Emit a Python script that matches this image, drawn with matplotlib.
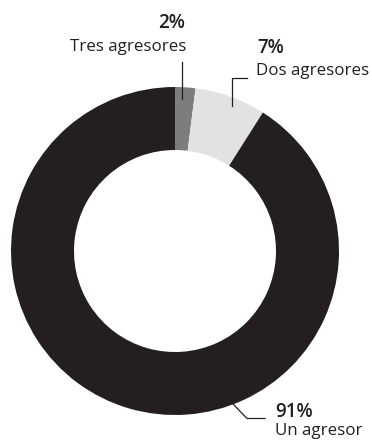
import matplotlib
matplotlib.use('Agg')
import matplotlib.pyplot as plt

# datos del gráfico
etiquetas = ['Tres agresores', 'Dos agresores', 'Un agresor']
porcentajes = [2, 7, 91]
colores = ['#7d7d80', '#e2e2e3', '#231f20']

plt.rcParams['font.family'] = ['Open Sans', 'DejaVu Sans']

fig = plt.figure(figsize=(3.72, 4.40), dpi=100)
ax = fig.add_axes([0, 0, 1, 1])

H = 440  # alto en píxeles, para pasar de y-arriba a y-abajo

# dona (coordenadas en píxeles)
cx, cy, r = 175, H - 251, 164
ax.pie(porcentajes, colors=colores, startangle=90, counterclock=False,
       center=(cx, cy), radius=r, frame=True,
       wedgeprops=dict(width=63, linewidth=0))
ax.set_xlim(0, 372)
ax.set_ylim(0, H)
ax.set_aspect('equal')
ax.axis('off')

lc = '#231f20'
lw = 0.9
fs_lab = 12.2
fs_pct = 13.5
# 2%
ax.plot([181.5, 181.5], [H - 99, H - 62], color=lc, lw=lw)
ax.text(185, H - 28, f'{porcentajes[0]}%', ha='right', va='baseline',
        fontsize=fs_pct, fontweight='semibold', color=lc)
ax.text(186, H - 51, etiquetas[0], ha='right', va='baseline', fontsize=fs_lab, color=lc)
# 7%
ax.plot([232, 232, 247], [H - 106, H - 78, H - 78], color=lc, lw=lw)
ax.text(257, H - 53, f'{porcentajes[1]}%', ha='left', va='baseline',
        fontsize=fs_pct, fontweight='semibold', color=lc)
ax.text(256, H - 75, etiquetas[1], ha='left', va='baseline', fontsize=fs_lab, color=lc)
# 91%
ax.plot([233, 247, 265], [H - 404, H - 418.5, H - 418.5], color=lc, lw=lw)
ax.text(275, H - 417, f'{porcentajes[2]}%', ha='left', va='baseline',
        fontsize=fs_pct, fontweight='semibold', color=lc)
ax.text(275, H - 435, etiquetas[2], ha='left', va='baseline', fontsize=fs_lab, color=lc)

fig.savefig('out.png', dpi=100)
